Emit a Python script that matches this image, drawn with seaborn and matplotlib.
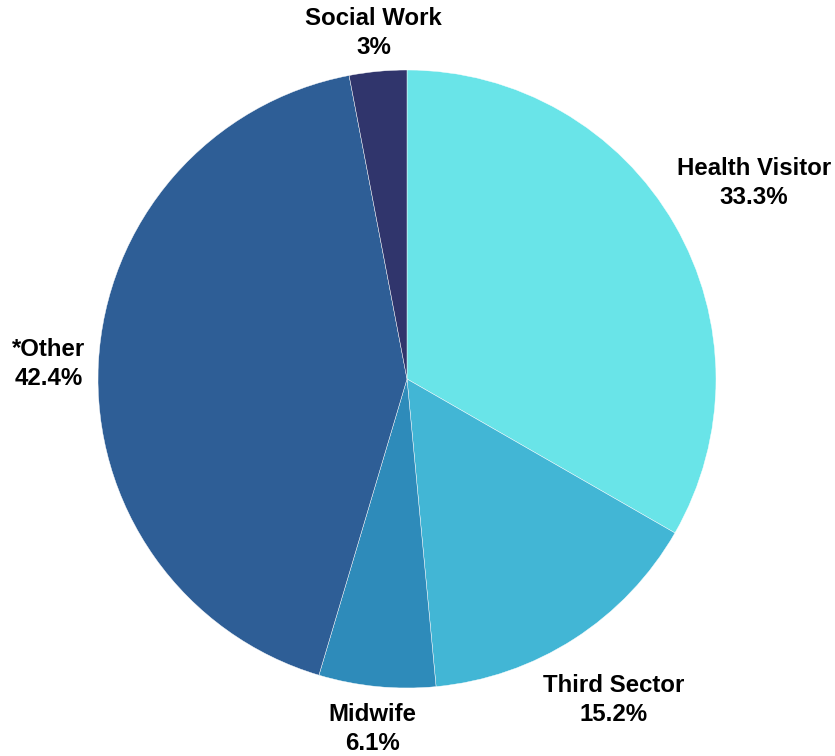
import numpy as np
import matplotlib
matplotlib.use("Agg")
import matplotlib.pyplot as plt
import seaborn as sns

categories = ["Health Visitor", "Third Sector", "Midwife", "*Other", "Social Work"]
shares = [33.3, 15.2, 6.1, 42.4, 3.0]
colors = ["#69E4E8", "#42B6D5", "#2E8BBA", "#2E5E96", "#30356C"]

sns.set_theme(style="white")
plt.rcParams["font.family"] = ["Liberation Sans", "DejaVu Sans"]

W, H, DPI = 835, 756, 100
fig = plt.figure(figsize=(W / DPI, H / DPI), dpi=DPI)
ax = fig.add_axes([0, 0, 1, 1])

# pie centre and radius in pixels
cx, cy_top, R = 407, 379, 309

wedges, _ = ax.pie(
    shares, colors=colors, startangle=90, counterclock=False, radius=1,
    wedgeprops=dict(edgecolor="white", linewidth=0.3), frame=True,
)
ax.set_axis_off()
ax.set_xlim(-cx / R, (W - cx) / R)
ax.set_ylim(-(H - cy_top) / R, cy_top / R)

fig.canvas.draw()
renderer = fig.canvas.get_renderer()

# labels sit just outside the rim, their box touching a circle slightly larger than the pie
r0 = 1.03
x_pad = 3 / R      # a little extra room sideways
y_shift = -3 / R   # whole label block sits slightly low
for w, name, val in zip(wedges, categories, shares):
    ang = np.deg2rad((w.theta1 + w.theta2) / 2)
    t = ax.text(0, 0, f"{name}\n{val:g}%", ha="center", va="center",
                fontsize=17.3, fontweight="bold", color="black", linespacing=1.32)
    bb = t.get_window_extent(renderer)
    hw = bb.width / 2 / R
    hh = bb.height / 2 / R
    c, s = np.cos(ang), np.sin(ang)
    d = r0 + abs(c) * hw + abs(s) * hh
    t.set_position((d * c + x_pad * c, d * s + y_shift))

fig.savefig("out.png", dpi=DPI)
